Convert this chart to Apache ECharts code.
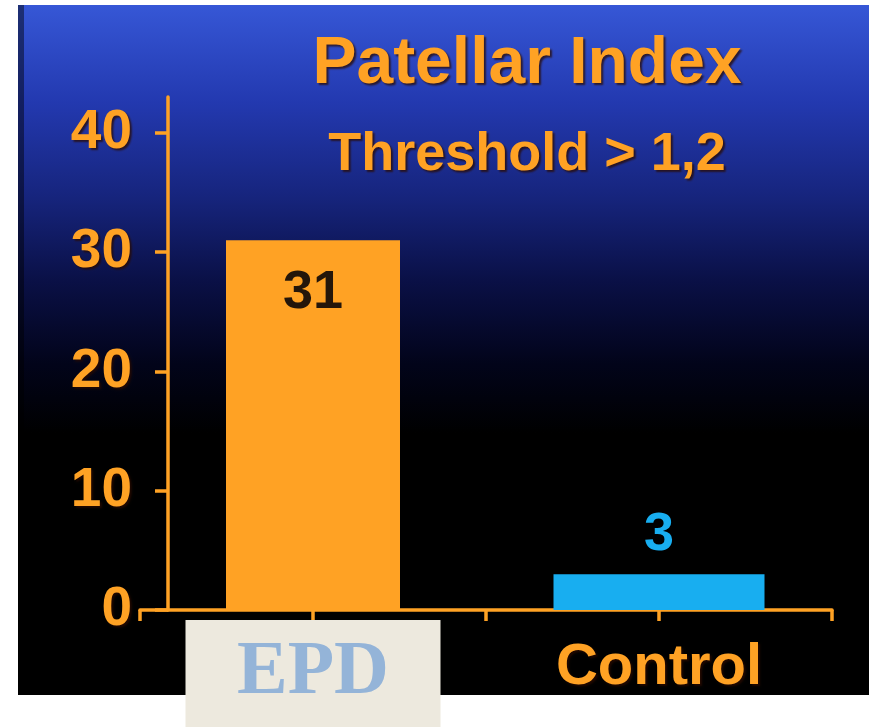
<!DOCTYPE html>
<html>
<head>
<meta charset="utf-8">
<script src="https://cdn.jsdelivr.net/npm/echarts@6/dist/echarts.min.js"></script>
<style>
html,body{margin:0;padding:0;background:#ffffff;}
#chart{width:869px;height:727px;}
</style>
</head>
<body>
<div id="chart"></div>
<script>
// ---- data ----
const categories = ['EPD', 'Control'];
const epdValues = [31, '-'];
const controlValues = ['-', 3];
const yTicks = [0, 10, 20, 30, 40];
const titleText = 'Patellar Index';
const subtitleText = 'Threshold > 1,2';

const ORANGE = '#ffa224';
const CYAN = '#18aef0';
const FONT = "'Liberation Sans', Arial, Helvetica, sans-serif";
const shadow = {textShadowColor: 'rgba(40,10,0,0.75)', textShadowBlur: 2, textShadowOffsetX: 2, textShadowOffsetY: 2};

const chart = echarts.init(document.getElementById('chart'), null, {renderer: 'canvas'});

const catAxisBase = {
  type: 'category',
  data: categories,
  gridIndex: 0,
  position: 'bottom'
};

chart.setOption({
  backgroundColor: 'transparent',
  animation: false,
  graphic: [{
    type: 'rect',
    z: -100,
    shape: {x: 18, y: 5, width: 851, height: 690},
    style: {
      fill: new echarts.graphic.LinearGradient(0, 0, 0, 1, [
        {offset: 0, color: '#3657d6'},
        {offset: 0.14, color: '#2339b0'},
        {offset: 0.28, color: '#16247c'},
        {offset: 0.4, color: '#0a1046'},
        {offset: 0.52, color: '#02041a'},
        {offset: 0.62, color: '#000000'},
        {offset: 1, color: '#000000'}
      ])
    }
  }, {
    type: 'rect',
    z: -99,
    shape: {x: 18, y: 5, width: 6, height: 690},
    style: {fill: 'rgba(0,0,0,0.45)'}
  }],
  title: [{
    text: titleText,
    left: 522, top: 27, textAlign: 'center',
    textStyle: Object.assign({color: ORANGE, fontSize: 66, fontWeight: 'bold', fontFamily: FONT}, shadow)
  }, {
    text: subtitleText,
    left: 522, top: 123, textAlign: 'center',
    textStyle: Object.assign({color: ORANGE, fontSize: 54, fontWeight: 'bold', fontFamily: FONT}, shadow)
  }],
  grid: {left: 140, right: 37, top: 97, bottom: 117, containLabel: false},
  yAxis: {
    type: 'value',
    min: 0, max: 43, interval: 10,
    offset: -28,
    splitLine: {show: false},
    axisLine: {show: true, lineStyle: {color: ORANGE, width: 3.5}},
    axisTick: {show: true, length: 13, lineStyle: {color: ORANGE, width: 3.5},
      customValues: yTicks},
    axisLabel: {
      customValues: yTicks,
      color: ORANGE, fontSize: 55, fontWeight: 'bold', fontFamily: FONT, margin: 36,
      textShadowColor: 'rgba(40,10,0,0.75)', textShadowBlur: 2, textShadowOffsetX: 2, textShadowOffsetY: 2
    }
  },
  xAxis: [
    Object.assign({}, catAxisBase, {
      axisLine: {show: true, lineStyle: {color: ORANGE, width: 3.5}},
      axisTick: {show: true, alignWithLabel: true, length: 11, lineStyle: {color: ORANGE, width: 3.5}},
      axisLabel: {
        margin: 10,
        interval: 0,
        formatter: function (v) { return v === 'EPD' ? '{epd|' + v + '}' : '{ctl|' + v + '}'; },
        rich: {
          epd: {
            backgroundColor: '#ede9de', width: 255, height: 107, lineHeight: 107, align: 'center',
            color: '#94b4d8', fontSize: 76, fontWeight: 'bold',
            fontFamily: "'Liberation Serif', 'DejaVu Serif', 'Times New Roman', serif"
          },
          ctl: Object.assign({
            color: ORANGE, fontSize: 58, fontWeight: 'bold', fontFamily: FONT,
            lineHeight: 96, height: 96
          }, shadow)
        }
      }
    }),
    Object.assign({}, catAxisBase, {
      axisLine: {show: false},
      axisTick: {show: true, length: 11, interval: 0, lineStyle: {color: ORANGE, width: 3.5}},
      axisLabel: {show: false}
    })
  ],
  series: [{
    type: 'bar',
    name: 'EPD',
    xAxisIndex: 0,
    data: epdValues,
    barWidth: 174,
    itemStyle: {color: ORANGE},
    label: {
      show: true, position: 'insideTop', distance: 26,
      color: '#24160a', fontSize: 54, fontWeight: 'bold', fontFamily: FONT,
      formatter: '{c}'
    }
  }, {
    type: 'bar',
    name: 'Control',
    xAxisIndex: 1,
    data: controlValues,
    barWidth: 211,
    itemStyle: {color: CYAN},
    label: {
      show: true, position: 'top', distance: 12,
      color: CYAN, fontSize: 54, fontWeight: 'bold', fontFamily: FONT,
      formatter: '{c}'
    }
  }]
});
</script>
</body>
</html>
